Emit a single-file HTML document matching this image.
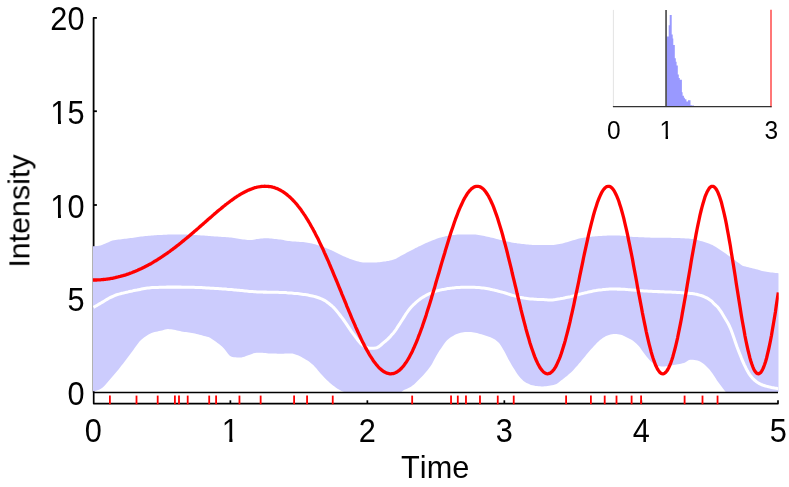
<!DOCTYPE html>
<html><head><meta charset="utf-8"><title>Intensity</title>
<style>
html,body{margin:0;padding:0;background:#fff;}
body{width:789px;height:487px;overflow:hidden;}
svg{display:block;}
text{font-family:"Liberation Sans",sans-serif;fill:#000;font-kerning:none;}
</style></head><body>
<svg width="789" height="487" viewBox="0 0 789 487">
<rect width="789" height="487" fill="#fff"/>
<g stroke="#000" stroke-width="1.8" fill="none">
<polyline points="96.9,17.9 93.6,17.9 93.6,392.5" stroke-linejoin="round"/>
<line x1="93.6" y1="298.77" x2="96.9" y2="298.77"/><line x1="93.6" y1="205.00" x2="96.9" y2="205.00"/><line x1="93.6" y1="111.22" x2="96.9" y2="111.22"/>
</g>
<clipPath id="pc"><rect x="92.9" y="0" width="685.8" height="392.5"/></clipPath>
<g clip-path="url(#pc)">
<polygon points="93.0,246.3 94.5,246.3 96.0,246.1 97.5,246.0 99.0,245.8 100.5,245.4 102.0,244.9 103.5,244.3 105.0,243.7 106.5,243.1 108.0,242.4 109.5,241.7 111.0,241.0 112.5,240.6 114.0,240.3 115.5,240.0 117.0,239.8 118.5,239.6 120.0,239.4 121.5,239.2 123.0,239.0 124.5,238.8 126.0,238.7 127.5,238.5 129.0,238.3 130.5,238.1 132.0,237.9 133.5,237.7 135.0,237.4 136.5,237.2 138.0,237.0 139.5,236.8 141.0,236.6 142.5,236.4 144.0,236.2 145.5,236.1 147.0,235.9 148.5,235.8 150.0,235.7 151.5,235.5 153.0,235.4 154.5,235.3 156.0,235.2 157.5,235.1 159.0,235.0 160.5,235.0 162.0,234.9 163.5,234.8 165.0,234.7 166.5,234.7 168.0,234.6 169.5,234.6 171.0,234.5 172.5,234.5 174.0,234.5 175.5,234.4 177.0,234.4 178.5,234.4 180.0,234.4 181.5,234.4 183.0,234.5 184.5,234.5 186.0,234.6 187.5,234.6 189.0,234.7 190.5,234.8 192.0,234.9 193.5,234.9 195.0,235.0 196.5,235.1 198.0,235.2 199.5,235.3 201.0,235.4 202.5,235.5 204.0,235.6 205.5,235.7 207.0,235.8 208.5,236.0 210.0,236.1 211.5,236.2 213.0,236.3 214.5,236.4 216.0,236.5 217.5,236.6 219.0,236.7 220.5,236.8 222.0,236.9 223.5,237.0 225.0,237.1 226.5,237.2 228.0,237.3 229.5,237.5 231.0,237.6 232.5,237.8 234.0,237.9 235.5,238.2 237.0,238.5 238.5,238.8 240.0,239.0 241.5,239.2 243.0,239.4 244.5,239.6 246.0,239.8 247.5,239.9 249.0,240.0 250.5,240.0 252.0,239.9 253.5,239.7 255.0,239.4 256.5,239.1 258.0,238.9 259.5,238.7 261.0,238.6 262.5,238.4 264.0,238.3 265.5,238.2 267.0,238.2 268.5,238.3 270.0,238.4 271.5,238.6 273.0,238.8 274.5,239.0 276.0,239.1 277.5,239.2 279.0,239.4 280.5,239.5 282.0,239.8 283.5,240.0 285.0,240.4 286.5,240.7 288.0,240.9 289.5,241.1 291.0,241.2 292.5,241.4 294.0,241.5 295.5,241.6 297.0,241.7 298.5,241.8 300.0,241.9 301.5,242.0 303.0,242.1 304.5,242.3 306.0,242.5 307.5,242.7 309.0,243.0 310.5,243.2 312.0,243.5 313.5,243.9 315.0,244.2 316.5,244.7 318.0,245.2 319.5,245.7 321.0,246.2 322.5,246.7 324.0,247.2 325.5,247.8 327.0,248.4 328.5,249.0 330.0,249.7 331.5,250.3 333.0,251.0 334.5,251.7 336.0,252.4 337.5,253.2 339.0,254.0 340.5,254.8 342.0,255.5 343.5,256.2 345.0,256.8 346.5,257.5 348.0,258.1 349.5,258.7 351.0,259.2 352.5,259.7 354.0,260.2 355.5,260.7 357.0,261.2 358.5,261.6 360.0,262.0 361.5,262.2 363.0,262.4 364.5,262.4 366.0,262.5 367.5,262.5 369.0,262.6 370.5,262.6 372.0,262.6 373.5,262.6 375.0,262.6 376.5,262.5 378.0,262.3 379.5,262.2 381.0,262.0 382.5,261.8 384.0,261.6 385.5,261.4 387.0,261.1 388.5,260.9 390.0,260.5 391.5,260.2 393.0,259.8 394.5,259.3 396.0,258.7 397.5,257.8 399.0,256.9 400.5,256.1 402.0,255.3 403.5,254.5 405.0,253.7 406.5,252.8 408.0,252.0 409.5,251.2 411.0,250.4 412.5,249.7 414.0,248.9 415.5,248.1 417.0,247.4 418.5,246.6 420.0,245.9 421.5,245.2 423.0,244.5 424.5,243.8 426.0,243.1 427.5,242.5 429.0,241.8 430.5,241.2 432.0,240.6 433.5,240.0 435.0,239.4 436.5,238.8 438.0,238.3 439.5,237.8 441.0,237.4 442.5,237.0 444.0,236.7 445.5,236.3 447.0,236.0 448.5,235.8 450.0,235.5 451.5,235.3 453.0,235.1 454.5,234.9 456.0,234.8 457.5,234.6 459.0,234.5 460.5,234.4 462.0,234.4 463.5,234.4 465.0,234.4 466.5,234.4 468.0,234.4 469.5,234.4 471.0,234.4 472.5,234.4 474.0,234.5 475.5,234.6 477.0,234.8 478.5,235.0 480.0,235.3 481.5,235.6 483.0,235.8 484.5,236.1 486.0,236.4 487.5,236.7 489.0,237.0 490.5,237.4 492.0,237.7 493.5,238.1 495.0,238.5 496.5,238.9 498.0,239.3 499.5,239.7 501.0,240.1 502.5,240.5 504.0,240.8 505.5,241.2 507.0,241.5 508.5,241.8 510.0,242.1 511.5,242.4 513.0,242.7 514.5,242.9 516.0,243.1 517.5,243.4 519.0,243.6 520.5,243.8 522.0,243.9 523.5,244.1 525.0,244.3 526.5,244.4 528.0,244.6 529.5,244.7 531.0,244.8 532.5,244.9 534.0,244.9 535.5,244.9 537.0,244.9 538.5,244.9 540.0,244.9 541.5,244.9 543.0,244.9 544.5,244.9 546.0,244.9 547.5,245.0 549.0,245.1 550.5,245.1 552.0,245.1 553.5,244.9 555.0,244.8 556.5,244.6 558.0,244.3 559.5,244.1 561.0,243.8 562.5,243.5 564.0,243.1 565.5,242.6 567.0,242.2 568.5,241.7 570.0,241.2 571.5,240.8 573.0,240.3 574.5,239.9 576.0,239.4 577.5,238.9 579.0,238.5 580.5,238.2 582.0,237.9 583.5,237.7 585.0,237.4 586.5,237.2 588.0,237.1 589.5,236.9 591.0,236.7 592.5,236.6 594.0,236.4 595.5,236.3 597.0,236.2 598.5,236.1 600.0,236.0 601.5,235.9 603.0,235.8 604.5,235.7 606.0,235.7 607.5,235.6 609.0,235.5 610.5,235.5 612.0,235.5 613.5,235.5 615.0,235.5 616.5,235.5 618.0,235.6 619.5,235.6 621.0,235.7 622.5,235.7 624.0,235.8 625.5,236.0 627.0,236.2 628.5,236.5 630.0,236.7 631.5,236.8 633.0,236.9 634.5,237.0 636.0,237.1 637.5,237.1 639.0,237.2 640.5,237.2 642.0,237.3 643.5,237.3 645.0,237.4 646.5,237.5 648.0,237.6 649.5,237.6 651.0,237.7 652.5,237.7 654.0,237.7 655.5,237.7 657.0,237.7 658.5,237.7 660.0,237.7 661.5,237.7 663.0,237.7 664.5,237.7 666.0,237.7 667.5,237.7 669.0,237.8 670.5,237.8 672.0,237.9 673.5,237.9 675.0,237.9 676.5,238.0 678.0,238.0 679.5,238.1 681.0,238.2 682.5,238.2 684.0,238.3 685.5,238.4 687.0,238.5 688.5,238.6 690.0,238.7 691.5,238.9 693.0,239.1 694.5,239.4 696.0,239.8 697.5,240.1 699.0,240.5 700.5,240.9 702.0,241.3 703.5,241.7 705.0,242.2 706.5,242.7 708.0,243.2 709.5,243.8 711.0,244.4 712.5,245.1 714.0,245.9 715.5,246.8 717.0,247.8 718.5,248.8 720.0,249.8 721.5,250.8 723.0,251.8 724.5,252.8 726.0,253.8 727.5,254.9 729.0,256.0 730.5,257.0 732.0,258.1 733.5,259.2 735.0,260.3 736.5,261.4 738.0,262.5 739.5,263.6 741.0,264.7 742.5,265.7 744.0,266.3 745.5,266.6 747.0,267.0 748.5,267.3 750.0,267.7 751.5,268.0 753.0,268.4 754.5,268.8 756.0,269.2 757.5,269.6 759.0,270.1 760.5,270.6 762.0,271.0 763.5,271.3 765.0,271.6 766.5,271.8 768.0,272.0 769.5,272.2 771.0,272.4 772.5,272.6 774.0,272.8 775.5,273.0 777.0,273.1 778.5,273.3 778.7,273.3 778.7,392.5 778.5,392.5 777.0,392.5 775.5,392.5 774.0,392.5 772.5,392.5 771.0,392.5 769.5,392.5 768.0,392.5 766.5,392.5 765.0,392.5 763.5,392.5 762.0,392.5 760.5,392.5 759.0,392.5 757.5,392.5 756.0,392.5 754.5,392.5 753.0,392.5 751.5,392.5 750.0,392.5 748.5,392.5 747.0,392.5 745.5,392.5 744.0,392.5 742.5,392.5 741.0,392.5 739.5,392.5 738.0,392.5 736.5,392.5 735.0,392.5 733.5,392.5 732.0,392.5 730.5,392.5 729.0,392.5 727.5,392.5 726.0,392.3 724.5,390.5 723.0,388.5 721.5,386.6 720.0,384.6 718.5,382.6 717.0,380.5 715.5,378.1 714.0,375.7 712.5,373.4 711.0,371.4 709.5,369.6 708.0,367.9 706.5,366.4 705.0,365.0 703.5,363.8 702.0,362.8 700.5,361.8 699.0,361.0 697.5,360.5 696.0,360.2 694.5,360.0 693.0,359.8 691.5,359.7 690.0,359.8 688.5,360.3 687.0,361.2 685.5,362.2 684.0,362.9 682.5,363.3 681.0,363.7 679.5,364.0 678.0,364.3 676.5,364.5 675.0,364.8 673.5,365.0 672.0,365.3 670.5,365.6 669.0,365.8 667.5,366.1 666.0,366.3 664.5,366.5 663.0,366.5 661.5,366.4 660.0,366.2 658.5,365.9 657.0,365.5 655.5,364.9 654.0,363.9 652.5,362.7 651.0,361.4 649.5,360.0 648.0,358.3 646.5,356.5 645.0,354.6 643.5,352.6 642.0,350.4 640.5,348.3 639.0,346.3 637.5,344.8 636.0,343.3 634.5,342.0 633.0,340.8 631.5,339.8 630.0,338.9 628.5,338.2 627.0,337.4 625.5,336.7 624.0,336.0 622.5,335.3 621.0,334.8 619.5,334.5 618.0,334.3 616.5,334.1 615.0,334.0 613.5,334.0 612.0,334.2 610.5,334.5 609.0,334.9 607.5,335.4 606.0,336.0 604.5,336.9 603.0,337.8 601.5,338.9 600.0,340.0 598.5,341.4 597.0,342.8 595.5,344.4 594.0,346.0 592.5,347.7 591.0,349.3 589.5,351.0 588.0,352.8 586.5,354.6 585.0,356.5 583.5,358.3 582.0,360.1 580.5,361.9 579.0,363.6 577.5,365.4 576.0,367.1 574.5,368.8 573.0,370.4 571.5,371.9 570.0,373.3 568.5,374.6 567.0,375.9 565.5,377.1 564.0,378.2 562.5,379.4 561.0,380.5 559.5,381.7 558.0,382.9 556.5,383.9 555.0,384.4 553.5,384.9 552.0,385.3 550.5,385.6 549.0,385.8 547.5,386.0 546.0,386.2 544.5,386.3 543.0,386.4 541.5,386.4 540.0,386.3 538.5,386.2 537.0,386.1 535.5,385.9 534.0,385.6 532.5,385.3 531.0,384.9 529.5,384.3 528.0,383.6 526.5,382.9 525.0,382.0 523.5,380.9 522.0,379.5 520.5,377.9 519.0,376.2 517.5,374.2 516.0,372.0 514.5,369.6 513.0,367.2 511.5,364.7 510.0,362.1 508.5,359.4 507.0,356.5 505.5,353.6 504.0,350.7 502.5,348.2 501.0,345.7 499.5,343.6 498.0,342.0 496.5,340.7 495.0,339.6 493.5,338.7 492.0,338.0 490.5,337.3 489.0,336.7 487.5,336.2 486.0,335.7 484.5,335.2 483.0,334.8 481.5,334.3 480.0,333.9 478.5,333.4 477.0,333.0 475.5,332.7 474.0,332.4 472.5,332.2 471.0,332.1 469.5,332.1 468.0,332.0 466.5,332.0 465.0,332.0 463.5,332.2 462.0,332.5 460.5,332.8 459.0,333.3 457.5,333.7 456.0,334.3 454.5,335.0 453.0,335.9 451.5,336.8 450.0,337.8 448.5,338.9 447.0,340.3 445.5,342.1 444.0,344.1 442.5,346.3 441.0,348.4 439.5,350.6 438.0,352.9 436.5,355.4 435.0,358.2 433.5,361.1 432.0,363.9 430.5,366.2 429.0,368.3 427.5,370.3 426.0,372.1 424.5,373.8 423.0,375.5 421.5,377.1 420.0,378.6 418.5,380.1 417.0,381.6 415.5,383.0 414.0,384.4 412.5,385.6 411.0,386.7 409.5,387.6 408.0,388.3 406.5,388.9 405.0,389.5 403.5,390.3 402.0,391.4 400.5,392.5 399.0,392.5 397.5,392.5 396.0,392.5 394.5,392.5 393.0,392.5 391.5,392.5 390.0,392.5 388.5,392.5 387.0,392.5 385.5,392.5 384.0,392.5 382.5,392.5 381.0,392.5 379.5,392.5 378.0,392.5 376.5,392.5 375.0,392.5 373.5,392.5 372.0,392.5 370.5,392.5 369.0,392.5 367.5,392.5 366.0,392.5 364.5,392.5 363.0,392.5 361.5,392.5 360.0,392.5 358.5,392.5 357.0,392.5 355.5,392.5 354.0,392.5 352.5,392.5 351.0,392.5 349.5,392.5 348.0,392.5 346.5,392.5 345.0,392.4 343.5,391.8 342.0,391.2 340.5,390.5 339.0,389.6 337.5,388.7 336.0,387.7 334.5,386.6 333.0,385.5 331.5,384.3 330.0,383.0 328.5,381.6 327.0,380.2 325.5,378.7 324.0,377.2 322.5,375.6 321.0,374.0 319.5,372.3 318.0,370.4 316.5,368.6 315.0,366.9 313.5,365.3 312.0,363.9 310.5,362.7 309.0,361.6 307.5,360.6 306.0,359.7 304.5,358.8 303.0,358.0 301.5,357.1 300.0,356.3 298.5,355.6 297.0,355.0 295.5,354.5 294.0,353.9 292.5,353.6 291.0,353.5 289.5,353.5 288.0,353.5 286.5,353.6 285.0,353.6 283.5,353.7 282.0,353.7 280.5,353.7 279.0,353.7 277.5,353.7 276.0,353.6 274.5,353.6 273.0,353.6 271.5,353.5 270.0,353.5 268.5,353.4 267.0,353.2 265.5,353.0 264.0,352.9 262.5,352.8 261.0,352.7 259.5,352.7 258.0,352.7 256.5,352.7 255.0,352.9 253.5,353.3 252.0,353.9 250.5,354.4 249.0,354.9 247.5,355.5 246.0,356.1 244.5,356.7 243.0,357.1 241.5,357.5 240.0,357.6 238.5,357.6 237.0,357.5 235.5,357.3 234.0,357.2 232.5,356.9 231.0,356.6 229.5,355.4 228.0,353.7 226.5,351.7 225.0,349.7 223.5,348.0 222.0,346.6 220.5,345.3 219.0,344.1 217.5,342.9 216.0,341.8 214.5,340.7 213.0,339.7 211.5,338.7 210.0,337.8 208.5,337.1 207.0,336.7 205.5,336.3 204.0,335.9 202.5,335.6 201.0,335.1 199.5,334.7 198.0,334.3 196.5,333.9 195.0,333.5 193.5,333.2 192.0,332.9 190.5,332.7 189.0,332.5 187.5,332.3 186.0,332.1 184.5,331.9 183.0,331.7 181.5,331.4 180.0,331.1 178.5,330.8 177.0,330.4 175.5,330.1 174.0,329.8 172.5,329.5 171.0,329.3 169.5,329.2 168.0,329.1 166.5,329.2 165.0,329.6 163.5,330.1 162.0,330.5 160.5,330.8 159.0,331.1 157.5,331.4 156.0,331.8 154.5,332.1 153.0,332.5 151.5,333.0 150.0,333.7 148.5,334.4 147.0,335.4 145.5,336.4 144.0,337.5 142.5,338.8 141.0,340.1 139.5,341.6 138.0,343.4 136.5,345.4 135.0,347.5 133.5,349.7 132.0,351.8 130.5,353.8 129.0,355.7 127.5,357.7 126.0,359.7 124.5,361.7 123.0,363.7 121.5,365.6 120.0,367.5 118.5,369.4 117.0,371.2 115.5,373.0 114.0,374.8 112.5,376.6 111.0,378.2 109.5,379.9 108.0,381.7 106.5,383.5 105.0,385.2 103.5,386.8 102.0,388.1 100.5,389.0 99.0,389.7 97.5,390.3 96.0,390.8 94.5,391.2 93.0,391.3" fill="#ccccfd"/>
<polyline points="93.5,307.4 95.0,306.5 96.5,305.7 98.0,304.8 99.5,303.9 101.0,303.0 102.5,302.1 104.0,301.2 105.5,300.3 107.0,299.4 108.5,298.5 110.0,297.7 111.5,297.0 113.0,296.3 114.5,295.6 116.0,295.0 117.5,294.5 119.0,294.1 120.5,293.7 122.0,293.3 123.5,293.0 125.0,292.6 126.5,292.2 128.0,291.9 129.5,291.5 131.0,291.2 132.5,290.9 134.0,290.5 135.5,290.2 137.0,290.0 138.5,289.7 140.0,289.4 141.5,289.1 143.0,288.8 144.5,288.5 146.0,288.2 147.5,288.0 149.0,287.9 150.5,287.7 152.0,287.6 153.5,287.5 155.0,287.5 156.5,287.4 158.0,287.4 159.5,287.3 161.0,287.3 162.5,287.2 164.0,287.2 165.5,287.2 167.0,287.1 168.5,287.1 170.0,287.1 171.5,287.1 173.0,287.1 174.5,287.1 176.0,287.1 177.5,287.1 179.0,287.1 180.5,287.1 182.0,287.2 183.5,287.2 185.0,287.2 186.5,287.2 188.0,287.2 189.5,287.3 191.0,287.3 192.5,287.3 194.0,287.3 195.5,287.4 197.0,287.4 198.5,287.5 200.0,287.5 201.5,287.6 203.0,287.7 204.5,287.8 206.0,287.9 207.5,288.0 209.0,288.1 210.5,288.2 212.0,288.2 213.5,288.3 215.0,288.4 216.5,288.5 218.0,288.6 219.5,288.7 221.0,288.8 222.5,288.9 224.0,289.0 225.5,289.1 227.0,289.3 228.5,289.4 230.0,289.5 231.5,289.6 233.0,289.7 234.5,289.9 236.0,290.0 237.5,290.2 239.0,290.3 240.5,290.5 242.0,290.6 243.5,290.8 245.0,291.0 246.5,291.1 248.0,291.2 249.5,291.4 251.0,291.5 252.5,291.6 254.0,291.7 255.5,291.8 257.0,291.9 258.5,291.9 260.0,292.0 261.5,292.0 263.0,292.1 264.5,292.1 266.0,292.1 267.5,292.2 269.0,292.2 270.5,292.2 272.0,292.2 273.5,292.2 275.0,292.3 276.5,292.3 278.0,292.3 279.5,292.4 281.0,292.4 282.5,292.5 284.0,292.5 285.5,292.6 287.0,292.8 288.5,292.9 290.0,293.0 291.5,293.1 293.0,293.2 294.5,293.4 296.0,293.5 297.5,293.6 299.0,293.8 300.5,294.0 302.0,294.2 303.5,294.4 305.0,294.6 306.5,294.8 308.0,295.1 309.5,295.4 311.0,295.7 312.5,296.0 314.0,296.4 315.5,296.8 317.0,297.3 318.5,297.8 320.0,298.3 321.5,298.9 323.0,299.6 324.5,300.4 326.0,301.3 327.5,302.4 329.0,303.5 330.5,304.8 332.0,306.0 333.5,307.4 335.0,309.0 336.5,310.7 338.0,312.6 339.5,314.5 341.0,316.5 342.5,318.4 344.0,320.5 345.5,322.6 347.0,324.9 348.5,327.2 350.0,329.4 351.5,331.6 353.0,333.6 354.5,335.6 356.0,337.7 357.5,339.7 359.0,341.6 360.5,343.3 362.0,344.7 363.5,345.8 365.0,346.7 366.5,347.5 368.0,348.1 369.5,348.3 371.0,348.3 372.5,348.2 374.0,348.2 375.5,348.1 377.0,347.7 378.5,346.9 380.0,345.8 381.5,344.5 383.0,343.2 384.5,341.9 386.0,340.7 387.5,339.3 389.0,337.8 390.5,336.3 392.0,334.6 393.5,332.9 395.0,331.0 396.5,328.8 398.0,326.4 399.5,324.2 401.0,321.8 402.5,319.5 404.0,317.1 405.5,314.7 407.0,312.5 408.5,310.4 410.0,308.5 411.5,306.8 413.0,305.2 414.5,303.8 416.0,302.4 417.5,301.1 419.0,299.9 420.5,298.8 422.0,297.8 423.5,296.9 425.0,296.0 426.5,295.2 428.0,294.4 429.5,293.7 431.0,293.1 432.5,292.5 434.0,292.0 435.5,291.4 437.0,290.9 438.5,290.5 440.0,290.1 441.5,289.8 443.0,289.4 444.5,289.2 446.0,288.9 447.5,288.6 449.0,288.4 450.5,288.2 452.0,288.1 453.5,287.9 455.0,287.7 456.5,287.6 458.0,287.5 459.5,287.4 461.0,287.3 462.5,287.3 464.0,287.3 465.5,287.3 467.0,287.3 468.5,287.3 470.0,287.3 471.5,287.3 473.0,287.3 474.5,287.3 476.0,287.4 477.5,287.5 479.0,287.6 480.5,287.7 482.0,287.9 483.5,288.0 485.0,288.2 486.5,288.5 488.0,288.8 489.5,289.1 491.0,289.4 492.5,289.8 494.0,290.1 495.5,290.4 497.0,290.8 498.5,291.2 500.0,291.6 501.5,292.0 503.0,292.4 504.5,292.8 506.0,293.3 507.5,293.8 509.0,294.2 510.5,294.7 512.0,295.2 513.5,295.6 515.0,296.0 516.5,296.4 518.0,296.8 519.5,297.2 521.0,297.5 522.5,297.8 524.0,298.1 525.5,298.3 527.0,298.5 528.5,298.7 530.0,298.9 531.5,299.0 533.0,299.1 534.5,299.2 536.0,299.3 537.5,299.4 539.0,299.4 540.5,299.5 542.0,299.5 543.5,299.6 545.0,299.7 546.5,299.8 548.0,299.9 549.5,300.0 551.0,300.0 552.5,299.9 554.0,299.7 555.5,299.5 557.0,299.2 558.5,298.9 560.0,298.7 561.5,298.4 563.0,298.2 564.5,297.9 566.0,297.6 567.5,297.3 569.0,297.0 570.5,296.7 572.0,296.3 573.5,295.9 575.0,295.5 576.5,295.1 578.0,294.7 579.5,294.3 581.0,293.9 582.5,293.5 584.0,293.1 585.5,292.7 587.0,292.4 588.5,292.0 590.0,291.7 591.5,291.4 593.0,291.1 594.5,290.8 596.0,290.6 597.5,290.3 599.0,290.1 600.5,289.9 602.0,289.8 603.5,289.6 605.0,289.4 606.5,289.3 608.0,289.2 609.5,289.1 611.0,289.0 612.5,289.0 614.0,289.0 615.5,289.0 617.0,289.1 618.5,289.1 620.0,289.1 621.5,289.2 623.0,289.2 624.5,289.3 626.0,289.4 627.5,289.6 629.0,289.7 630.5,289.8 632.0,290.0 633.5,290.1 635.0,290.2 636.5,290.3 638.0,290.5 639.5,290.6 641.0,290.7 642.5,290.8 644.0,290.9 645.5,291.0 647.0,291.1 648.5,291.2 650.0,291.2 651.5,291.3 653.0,291.4 654.5,291.5 656.0,291.5 657.5,291.6 659.0,291.6 660.5,291.7 662.0,291.8 663.5,291.8 665.0,291.9 666.5,291.9 668.0,292.0 669.5,292.0 671.0,292.1 672.5,292.2 674.0,292.2 675.5,292.3 677.0,292.4 678.5,292.5 680.0,292.6 681.5,292.7 683.0,292.8 684.5,293.0 686.0,293.1 687.5,293.2 689.0,293.3 690.5,293.5 692.0,293.6 693.5,293.8 695.0,294.1 696.5,294.3 698.0,294.7 699.5,295.1 701.0,295.5 702.5,296.0 704.0,296.6 705.5,297.3 707.0,298.0 708.5,298.9 710.0,299.9 711.5,300.9 713.0,302.6 714.5,304.2 716.0,305.5 717.5,306.9 719.0,308.8 720.5,310.9 722.0,313.2 723.5,315.7 725.0,318.2 726.5,320.7 728.0,323.3 729.5,326.3 731.0,329.7 732.5,333.7 734.0,337.9 735.5,342.4 737.0,346.7 738.5,350.7 740.0,354.5 741.5,358.3 743.0,361.8 744.5,365.1 746.0,368.2 747.5,371.1 749.0,373.7 750.5,375.8 752.0,377.6 753.5,379.2 755.0,380.6 756.5,381.7 758.0,382.7 759.5,383.6 761.0,384.4 762.5,385.0 764.0,385.5 765.5,386.0 767.0,386.4 768.5,386.8 770.0,387.1 771.5,387.5 773.0,387.8 774.5,388.1 776.0,388.3 777.5,388.6 778.3,388.7" fill="none" stroke="#fff" stroke-width="3.05" stroke-linejoin="round"/>
<polyline points="90.7,280.0 91.6,280.0 92.6,280.0 93.6,280.0 94.6,280.0 95.6,280.0 96.5,280.0 97.5,279.9 98.5,279.9 99.5,279.8 100.4,279.8 101.4,279.7 102.4,279.6 103.4,279.5 104.4,279.4 105.3,279.3 106.3,279.2 107.3,279.1 108.3,278.9 109.2,278.8 110.2,278.6 111.2,278.4 112.2,278.3 113.2,278.1 114.1,277.9 115.1,277.7 116.1,277.4 117.1,277.2 118.0,277.0 119.0,276.7 120.0,276.5 121.0,276.2 122.0,275.9 122.9,275.7 123.9,275.4 124.9,275.1 125.9,274.8 126.9,274.4 127.8,274.1 128.8,273.8 129.8,273.4 130.8,273.0 131.7,272.7 132.7,272.3 133.7,271.9 134.7,271.5 135.7,271.1 136.6,270.7 137.6,270.3 138.6,269.8 139.6,269.4 140.5,268.9 141.5,268.5 142.5,268.0 143.5,267.5 144.5,267.0 145.4,266.5 146.4,266.0 147.4,265.5 148.4,265.0 149.3,264.4 150.3,263.9 151.3,263.4 152.3,262.8 153.3,262.2 154.2,261.6 155.2,261.1 156.2,260.5 157.2,259.9 158.2,259.2 159.1,258.6 160.1,258.0 161.1,257.3 162.1,256.7 163.0,256.0 164.0,255.4 165.0,254.7 166.0,254.0 167.0,253.4 167.9,252.7 168.9,252.0 169.9,251.3 170.9,250.5 171.8,249.8 172.8,249.1 173.8,248.3 174.8,247.6 175.8,246.9 176.7,246.1 177.7,245.3 178.7,244.6 179.7,243.8 180.7,243.0 181.6,242.2 182.6,241.4 183.6,240.6 184.6,239.8 185.5,239.0 186.5,238.2 187.5,237.4 188.5,236.6 189.5,235.7 190.4,234.9 191.4,234.1 192.4,233.2 193.4,232.4 194.3,231.6 195.3,230.7 196.3,229.9 197.3,229.0 198.3,228.2 199.2,227.3 200.2,226.4 201.2,225.6 202.2,224.7 203.1,223.9 204.1,223.0 205.1,222.2 206.1,221.3 207.1,220.4 208.0,219.6 209.0,218.7 210.0,217.9 211.0,217.0 212.0,216.2 212.9,215.3 213.9,214.5 214.9,213.6 215.9,212.8 216.8,212.0 217.8,211.1 218.8,210.3 219.8,209.5 220.8,208.7 221.7,207.9 222.7,207.1 223.7,206.3 224.7,205.5 225.6,204.7 226.6,204.0 227.6,203.2 228.6,202.5 229.6,201.7 230.5,201.0 231.5,200.3 232.5,199.6 233.5,198.9 234.4,198.2 235.4,197.5 236.4,196.9 237.4,196.2 238.4,195.6 239.3,195.0 240.3,194.4 241.3,193.8 242.3,193.3 243.3,192.7 244.2,192.2 245.2,191.7 246.2,191.2 247.2,190.7 248.1,190.3 249.1,189.9 250.1,189.4 251.1,189.1 252.1,188.7 253.0,188.4 254.0,188.0 255.0,187.7 256.0,187.5 256.9,187.2 257.9,187.0 258.9,186.8 259.9,186.7 260.9,186.5 261.8,186.4 262.8,186.3 263.8,186.3 264.8,186.2 265.7,186.3 266.7,186.3 267.7,186.4 268.7,186.5 269.7,186.6 270.6,186.7 271.6,186.9 272.6,187.2 273.6,187.4 274.6,187.7 275.5,188.1 276.5,188.4 277.5,188.8 278.5,189.3 279.4,189.7 280.4,190.2 281.4,190.8 282.4,191.4 283.4,192.0 284.3,192.7 285.3,193.4 286.3,194.1 287.3,194.9 288.2,195.7 289.2,196.5 290.2,197.4 291.2,198.4 292.2,199.3 293.1,200.3 294.1,201.4 295.1,202.5 296.1,203.6 297.1,204.8 298.0,206.0 299.0,207.2 300.0,208.5 301.0,209.8 301.9,211.2 302.9,212.6 303.9,214.1 304.9,215.5 305.9,217.1 306.8,218.6 307.8,220.2 308.8,221.9 309.8,223.5 310.7,225.2 311.7,227.0 312.7,228.7 313.7,230.6 314.7,232.4 315.6,234.3 316.6,236.2 317.6,238.1 318.6,240.1 319.5,242.1 320.5,244.2 321.5,246.2 322.5,248.3 323.5,250.4 324.4,252.6 325.4,254.8 326.4,257.0 327.4,259.2 328.4,261.4 329.3,263.7 330.3,266.0 331.3,268.3 332.3,270.6 333.2,272.9 334.2,275.3 335.2,277.6 336.2,280.0 337.2,282.4 338.1,284.7 339.1,287.1 340.1,289.5 341.1,291.9 342.0,294.3 343.0,296.7 344.0,299.1 345.0,301.5 346.0,303.9 346.9,306.3 347.9,308.7 348.9,311.1 349.9,313.4 350.8,315.7 351.8,318.1 352.8,320.4 353.8,322.6 354.8,324.9 355.7,327.1 356.7,329.3 357.7,331.5 358.7,333.6 359.7,335.8 360.6,337.8 361.6,339.9 362.6,341.9 363.6,343.8 364.5,345.7 365.5,347.6 366.5,349.4 367.5,351.2 368.5,352.9 369.4,354.6 370.4,356.2 371.4,357.7 372.4,359.2 373.3,360.7 374.3,362.0 375.3,363.3 376.3,364.6 377.3,365.7 378.2,366.8 379.2,367.8 380.2,368.8 381.2,369.6 382.1,370.4 383.1,371.1 384.1,371.8 385.1,372.3 386.1,372.8 387.0,373.2 388.0,373.4 389.0,373.6 390.0,373.8 391.0,373.8 391.9,373.7 392.9,373.6 393.9,373.3 394.9,373.0 395.8,372.6 396.8,372.0 397.8,371.4 398.8,370.7 399.8,369.9 400.7,369.0 401.7,368.0 402.7,366.9 403.7,365.7 404.6,364.4 405.6,363.1 406.6,361.6 407.6,360.0 408.6,358.4 409.5,356.7 410.5,354.8 411.5,352.9 412.5,350.9 413.4,348.8 414.4,346.7 415.4,344.4 416.4,342.1 417.4,339.7 418.3,337.2 419.3,334.7 420.3,332.0 421.3,329.3 422.3,326.6 423.2,323.8 424.2,320.9 425.2,317.9 426.2,314.9 427.1,311.9 428.1,308.8 429.1,305.7 430.1,302.5 431.1,299.3 432.0,296.0 433.0,292.8 434.0,289.5 435.0,286.1 435.9,282.8 436.9,279.4 437.9,276.1 438.9,272.7 439.9,269.3 440.8,266.0 441.8,262.6 442.8,259.3 443.8,256.0 444.8,252.7 445.7,249.4 446.7,246.2 447.7,243.0 448.7,239.8 449.6,236.7 450.6,233.6 451.6,230.6 452.6,227.7 453.6,224.8 454.5,222.0 455.5,219.2 456.5,216.6 457.5,214.0 458.4,211.5 459.4,209.1 460.4,206.9 461.4,204.7 462.4,202.6 463.3,200.6 464.3,198.7 465.3,197.0 466.3,195.3 467.2,193.8 468.2,192.5 469.2,191.2 470.2,190.1 471.2,189.1 472.1,188.3 473.1,187.6 474.1,187.0 475.1,186.6 476.1,186.4 477.0,186.3 478.0,186.3 479.0,186.5 480.0,186.8 480.9,187.3 481.9,187.9 482.9,188.7 483.9,189.7 484.9,190.8 485.8,192.0 486.8,193.5 487.8,195.0 488.8,196.7 489.7,198.6 490.7,200.5 491.7,202.7 492.7,204.9 493.7,207.4 494.6,209.9 495.6,212.6 496.6,215.4 497.6,218.3 498.5,221.3 499.5,224.4 500.5,227.7 501.5,231.0 502.5,234.5 503.4,238.0 504.4,241.7 505.4,245.4 506.4,249.1 507.4,253.0 508.3,256.9 509.3,260.9 510.3,264.9 511.3,268.9 512.2,273.0 513.2,277.1 514.2,281.2 515.2,285.3 516.2,289.4 517.1,293.5 518.1,297.6 519.1,301.7 520.1,305.7 521.0,309.7 522.0,313.6 523.0,317.5 524.0,321.3 525.0,325.1 525.9,328.7 526.9,332.3 527.9,335.8 528.9,339.1 529.8,342.4 530.8,345.5 531.8,348.5 532.8,351.3 533.8,354.1 534.7,356.6 535.7,359.0 536.7,361.3 537.7,363.4 538.7,365.3 539.6,367.0 540.6,368.5 541.6,369.9 542.6,371.0 543.5,372.0 544.5,372.7 545.5,373.3 546.5,373.7 547.5,373.8 548.4,373.7 549.4,373.4 550.4,372.9 551.4,372.2 552.3,371.3 553.3,370.2 554.3,368.9 555.3,367.3 556.3,365.6 557.2,363.6 558.2,361.4 559.2,359.1 560.2,356.6 561.2,353.8 562.1,350.9 563.1,347.8 564.1,344.6 565.1,341.1 566.0,337.6 567.0,333.9 568.0,330.0 569.0,326.0 570.0,321.9 570.9,317.7 571.9,313.3 572.9,308.9 573.9,304.4 574.8,299.9 575.8,295.2 576.8,290.6 577.8,285.8 578.8,281.1 579.7,276.4 580.7,271.6 581.7,266.9 582.7,262.2 583.6,257.5 584.6,252.9 585.6,248.3 586.6,243.8 587.6,239.4 588.5,235.1 589.5,230.9 590.5,226.8 591.5,222.9 592.5,219.1 593.4,215.5 594.4,212.0 595.4,208.7 596.4,205.7 597.3,202.8 598.3,200.1 599.3,197.6 600.3,195.4 601.3,193.3 602.2,191.6 603.2,190.0 604.2,188.8 605.2,187.7 606.1,187.0 607.1,186.5 608.1,186.3 609.1,186.3 610.1,186.6 611.0,187.2 612.0,188.1 613.0,189.2 614.0,190.6 614.9,192.2 615.9,194.2 616.9,196.4 617.9,198.8 618.9,201.5 619.8,204.4 620.8,207.6 621.8,211.0 622.8,214.6 623.8,218.4 624.7,222.4 625.7,226.6 626.7,230.9 627.7,235.4 628.6,240.1 629.6,244.9 630.6,249.8 631.6,254.8 632.6,259.9 633.5,265.1 634.5,270.4 635.5,275.6 636.5,281.0 637.4,286.3 638.4,291.6 639.4,296.8 640.4,302.1 641.4,307.2 642.3,312.3 643.3,317.3 644.3,322.2 645.3,326.9 646.2,331.5 647.2,335.9 648.2,340.2 649.2,344.3 650.2,348.1 651.1,351.7 652.1,355.1 653.1,358.3 654.1,361.2 655.1,363.8 656.0,366.1 657.0,368.1 658.0,369.9 659.0,371.3 659.9,372.4 660.9,373.2 661.9,373.7 662.9,373.8 663.9,373.6 664.8,373.1 665.8,372.2 666.8,371.0 667.8,369.5 668.7,367.7 669.7,365.5 670.7,363.1 671.7,360.3 672.7,357.2 673.6,353.9 674.6,350.2 675.6,346.3 676.6,342.2 677.6,337.8 678.5,333.2 679.5,328.4 680.5,323.4 681.5,318.2 682.4,312.9 683.4,307.4 684.4,301.8 685.4,296.2 686.4,290.4 687.3,284.7 688.3,278.9 689.3,273.0 690.3,267.2 691.2,261.5 692.2,255.8 693.2,250.2 694.2,244.7 695.2,239.3 696.1,234.1 697.1,229.0 698.1,224.2 699.1,219.5 700.0,215.1 701.0,211.0 702.0,207.1 703.0,203.5 704.0,200.2 704.9,197.2 705.9,194.6 706.9,192.3 707.9,190.4 708.9,188.8 709.8,187.6 710.8,186.8 711.8,186.3 712.8,186.3 713.7,186.6 714.7,187.3 715.7,188.5 716.7,190.0 717.7,191.9 718.6,194.1 719.6,196.8 720.6,199.8 721.6,203.1 722.5,206.8 723.5,210.8 724.5,215.1 725.5,219.7 726.5,224.6 727.4,229.7 728.4,235.0 729.4,240.6 730.4,246.3 731.3,252.2 732.3,258.2 733.3,264.3 734.3,270.5 735.3,276.8 736.2,283.1 737.2,289.3 738.2,295.6 739.2,301.8 740.2,307.9 741.1,313.8 742.1,319.7 743.1,325.3 744.1,330.8 745.0,336.0 746.0,341.0 747.0,345.7 748.0,350.1 749.0,354.2 749.9,357.9 750.9,361.3 751.9,364.3 752.9,367.0 753.8,369.2 754.8,371.0 755.8,372.3 756.8,373.2 757.8,373.7 758.7,373.8 759.7,373.3 760.7,372.5 761.7,371.1 762.6,369.4 763.6,367.2 764.6,364.5 765.6,361.5 766.6,358.0 767.5,354.2 768.5,350.0 769.5,345.4 770.5,340.5 771.5,335.3 772.4,329.8 773.4,324.0 774.4,318.0 775.4,311.9 776.3,305.5 777.3,299.0 778.3,292.4" fill="none" stroke="#ff0000" stroke-width="3.3" stroke-linejoin="round"/>
</g>
<g stroke="#000" stroke-width="1.7" fill="none" stroke-linejoin="round">
<polyline points="778.0,392.5 93.7,392.5 93.7,403.6 778.0,403.6 778.0,400.2"/>
<line x1="230.38" y1="403.6" x2="230.38" y2="400.3"/><line x1="367.36" y1="403.6" x2="367.36" y2="400.3"/><line x1="504.34" y1="403.6" x2="504.34" y2="400.3"/><line x1="641.32" y1="403.6" x2="641.32" y2="400.3"/>
</g>
<g stroke="#ff0000" stroke-width="1.8"><line x1="109.9" y1="395.6" x2="109.9" y2="404.3"/><line x1="136.5" y1="395.6" x2="136.5" y2="404.3"/><line x1="157.7" y1="395.6" x2="157.7" y2="404.3"/><line x1="174.9" y1="395.6" x2="174.9" y2="404.3"/><line x1="179.0" y1="395.6" x2="179.0" y2="404.3"/><line x1="187.7" y1="395.6" x2="187.7" y2="404.3"/><line x1="209.2" y1="395.6" x2="209.2" y2="404.3"/><line x1="216.1" y1="395.6" x2="216.1" y2="404.3"/><line x1="239.45" y1="395.6" x2="239.45" y2="404.3"/><line x1="260.65" y1="395.6" x2="260.65" y2="404.3"/><line x1="294.1" y1="395.6" x2="294.1" y2="404.3"/><line x1="307.07" y1="395.6" x2="307.07" y2="404.3"/><line x1="332.74" y1="395.6" x2="332.74" y2="404.3"/><line x1="412.17" y1="395.6" x2="412.17" y2="404.3"/><line x1="451.05" y1="395.6" x2="451.05" y2="404.3"/><line x1="457.8" y1="395.6" x2="457.8" y2="404.3"/><line x1="465.97" y1="395.6" x2="465.97" y2="404.3"/><line x1="479.98" y1="395.6" x2="479.98" y2="404.3"/><line x1="497.76" y1="395.6" x2="497.76" y2="404.3"/><line x1="513.73" y1="395.6" x2="513.73" y2="404.3"/><line x1="566.1" y1="395.6" x2="566.1" y2="404.3"/><line x1="590.9" y1="395.6" x2="590.9" y2="404.3"/><line x1="604.7" y1="395.6" x2="604.7" y2="404.3"/><line x1="616.5" y1="395.6" x2="616.5" y2="404.3"/><line x1="631.6" y1="395.6" x2="631.6" y2="404.3"/><line x1="641.1" y1="395.6" x2="641.1" y2="404.3"/><line x1="684.6" y1="395.6" x2="684.6" y2="404.3"/><line x1="702.5" y1="395.6" x2="702.5" y2="404.3"/><line x1="717.55" y1="395.6" x2="717.55" y2="404.3"/></g>
<g font-size="30.7px" opacity="0.999"><text transform="translate(84.5,405) scale(1,1.06)" text-anchor="end">0</text><text transform="translate(84.5,311) scale(1,1.06)" text-anchor="end">5</text><text transform="translate(84.5,218) scale(1,1.06)" text-anchor="end">10</text><text transform="translate(84.5,124) scale(1,1.06)" text-anchor="end">15</text><text transform="translate(84.5,30) scale(1,1.06)" text-anchor="end">20</text><text transform="translate(93.4,442.0) scale(1,1.06)" text-anchor="middle">0</text><text transform="translate(230.4,442.0) scale(1,1.06)" text-anchor="middle">1</text><text transform="translate(367.4,442.0) scale(1,1.06)" text-anchor="middle">2</text><text transform="translate(504.3,442.0) scale(1,1.06)" text-anchor="middle">3</text><text transform="translate(641.3,442.0) scale(1,1.06)" text-anchor="middle">4</text><text transform="translate(778.3,442.0) scale(1,1.06)" text-anchor="middle">5</text>
<text x="435.2" y="478" text-anchor="middle">Time</text>
<text transform="translate(29.4,211.1) rotate(-90)" text-anchor="middle" font-size="30.4px">Intensity</text>
<text font-size="24.5px" transform="translate(613.8,139) scale(1,1.07)" text-anchor="middle">0</text>
<text font-size="24.5px" transform="translate(666.4,139) scale(1,1.07)" text-anchor="middle">1</text>
<text font-size="24.5px" transform="translate(771.4,139) scale(1,1.07)" text-anchor="middle">3</text>
</g>
<!-- inset -->
<line x1="613.4" y1="9.9" x2="613.4" y2="106.6" stroke="#e4e4e4" stroke-width="1"/>
<polygon points="666.6,106.6 666.6,36.4 668.7,36.4 668.7,25.3 669.7,25.3 669.7,14.9 671.7,14.9 671.7,34.4 672.7,34.4 672.7,38.5 673.3,38.5 673.3,45.1 674.8,45.1 674.8,58.3 675.8,58.3 675.8,61.8 676.6,61.8 676.6,65.4 677.8,65.4 677.8,74.5 678.8,74.5 678.8,78 679.8,78 679.8,79.7 681.9,79.7 681.9,92.2 682.6,92.2 682.6,95.8 683.9,95.8 683.9,97.8 684.9,97.8 684.9,99.3 686.4,99.3 686.4,101.6 688,101.6 688,100.2 690.5,100.2 690.5,105.2 692,105.2 692,105.6 694,105.6 694,106.6" fill="#9999ff"/>
<line x1="666.05" y1="9.9" x2="666.05" y2="107.0" stroke="#444" stroke-width="1.6"/>
<line x1="771" y1="9.7" x2="771" y2="107.2" stroke="#ff5555" stroke-width="1.6"/>
<line x1="612.9" y1="106.6" x2="771.6" y2="106.6" stroke="#333" stroke-width="1.3"/>

<g fill="#fff"><rect x="223.53" y="438.57" width="6.03" height="4.43"/><rect x="232.28" y="438.57" width="5.84" height="4.43"/><rect x="229.57" y="438.57" width="2.71" height="3.43" fill="#000"/><rect x="52.04" y="214.57" width="6.03" height="4.43"/><rect x="60.78" y="214.57" width="5.84" height="4.43"/><rect x="58.07" y="214.57" width="2.71" height="3.43" fill="#000"/><rect x="52.04" y="120.57" width="6.03" height="4.43"/><rect x="60.78" y="120.57" width="5.84" height="4.43"/><rect x="58.07" y="120.57" width="2.71" height="3.43" fill="#000"/><rect x="660.93" y="136.04" width="4.81" height="3.96"/><rect x="667.91" y="136.04" width="4.66" height="3.96"/><rect x="665.75" y="136.04" width="2.16" height="2.96" fill="#000"/></g>
</svg>
</body></html>
